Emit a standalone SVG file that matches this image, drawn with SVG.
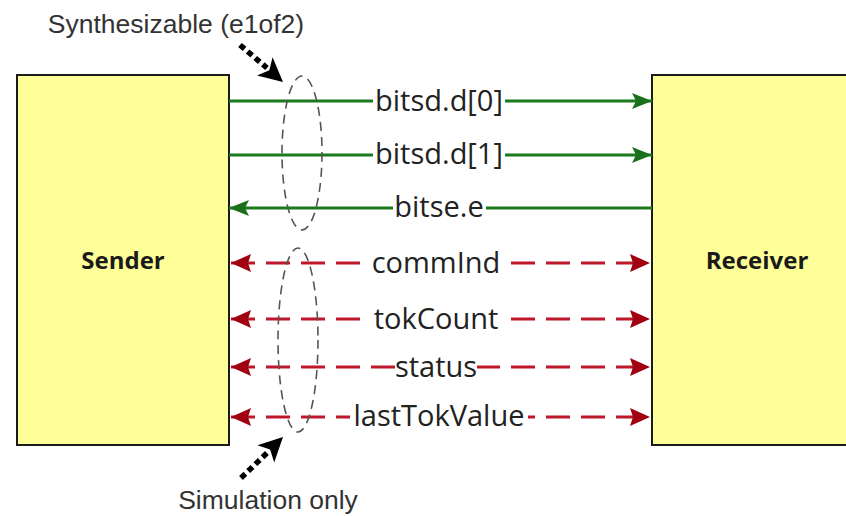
<svg xmlns="http://www.w3.org/2000/svg" width="846" height="516" viewBox="0 0 846 516">
  <style>
    .box { fill: #ffff99; stroke: #1a1a1a; stroke-width: 2; }
    .title { font-family: "Open Sans", "Liberation Sans", sans-serif; font-weight: bold; font-size: 24px; fill: #1a1a1a; text-anchor: middle; }
    .sig { font-family: "Open Sans", "Liberation Sans", sans-serif; font-size: 29px; fill: #222; text-anchor: middle; }
    .note { font-family: "Liberation Sans", Arial, sans-serif; font-size: 26.5px; fill: #333; text-anchor: middle; }
    .green { stroke: #1b7a1b; stroke-width: 3; fill: none; }
    .red { stroke: #c0162a; stroke-width: 3; fill: none; stroke-dasharray: 24 11; }
    .ring { fill: none; stroke: #555; stroke-width: 1.6; stroke-dasharray: 9 6; }
    .pointer { stroke: #000; stroke-width: 5.5; stroke-dasharray: 6 4; fill: none; }
    .head { fill: #000; }
    .mask { fill: #fff; }
  </style>
  <defs>
    <marker id="gArrow" viewBox="0 0 20 16" refX="20" refY="8" markerWidth="20" markerHeight="16" markerUnits="userSpaceOnUse" orient="auto">
      <path d="M0,0 L20,8 L0,16 L4,8 Z" fill="#1b6e1b"/>
    </marker>
    <marker id="rArrow" viewBox="0 0 20 18" refX="20" refY="9" markerWidth="20" markerHeight="18" markerUnits="userSpaceOnUse" orient="auto-start-reverse">
      <path d="M0,0 L20,9 L0,18 L3,9 Z" fill="#a00010"/>
    </marker>
  </defs>

  <rect width="846" height="516" fill="#fff"/>

  <g id="sender">
    <rect class="box" x="17" y="75" width="212" height="370"/>
    <text class="title" x="123" y="269">Sender</text>
  </g>

  <g id="receiver">
    <rect class="box" x="652" y="75" width="220" height="370"/>
    <text class="title" x="757" y="269">Receiver</text>
  </g>

  <g id="connectors">
    <!-- synthesizable e1of2 channel -->
    <line class="green" x1="229" y1="101" x2="652" y2="101" marker-end="url(#gArrow)"/>
    <line class="green" x1="229" y1="155" x2="652" y2="155" marker-end="url(#gArrow)"/>
    <line class="green" x1="652" y1="208" x2="229" y2="208" marker-end="url(#gArrow)"/>
    <!-- simulation-only signals -->
    <line class="red" x1="231" y1="263" x2="650" y2="263" marker-start="url(#rArrow)" marker-end="url(#rArrow)"/>
    <line class="red" x1="231" y1="319" x2="650" y2="319" marker-start="url(#rArrow)" marker-end="url(#rArrow)"/>
    <line class="red" x1="231" y1="367" x2="650" y2="367" marker-start="url(#rArrow)" marker-end="url(#rArrow)"/>
    <line class="red" x1="231" y1="417" x2="650" y2="417" marker-start="url(#rArrow)" marker-end="url(#rArrow)"/>
  </g>

  <g id="labels">
    <rect class="mask" x="373" y="86" width="132" height="32"/>
    <text class="sig" x="439" y="111">bitsd.d[0]</text>
    <rect class="mask" x="373" y="140" width="132" height="32"/>
    <text class="sig" x="439" y="164">bitsd.d[1]</text>
    <rect class="mask" x="393" y="194" width="93" height="28"/>
    <text class="sig" x="439" y="217">bitse.e</text>
    <rect class="mask" x="371" y="249" width="131" height="28"/>
    <text class="sig" x="436" y="273">commInd</text>
    <rect class="mask" x="371" y="304" width="131" height="30"/>
    <text class="sig" x="436" y="329">tokCount</text>
    <rect class="mask" x="395" y="353" width="82" height="28"/>
    <text class="sig" x="436" y="377">status</text>
    <rect class="mask" x="350" y="402" width="178" height="30"/>
    <text class="sig" x="439" y="426">lastTokValue</text>
  </g>

  <g id="synth-group">
    <ellipse class="ring" cx="302" cy="153" rx="20" ry="77"/>
    <text class="note" x="176" y="33">Synthesizable (e1of2)</text>
    <line class="pointer" x1="240" y1="45" x2="267" y2="68"/>
    <polygon class="head" points="283,82 257,75.5 269.3,70.3 272.6,57.3"/>
  </g>

  <g id="sim-group">
    <ellipse class="ring" cx="298" cy="340" rx="20" ry="92"/>
    <text class="note" x="268" y="509">Simulation only</text>
    <line class="pointer" x1="241" y1="478" x2="268" y2="452"/>
    <polygon class="head" points="283,437 274.2,462.4 270.1,449.6 257.4,445.2"/>
  </g>
</svg>
